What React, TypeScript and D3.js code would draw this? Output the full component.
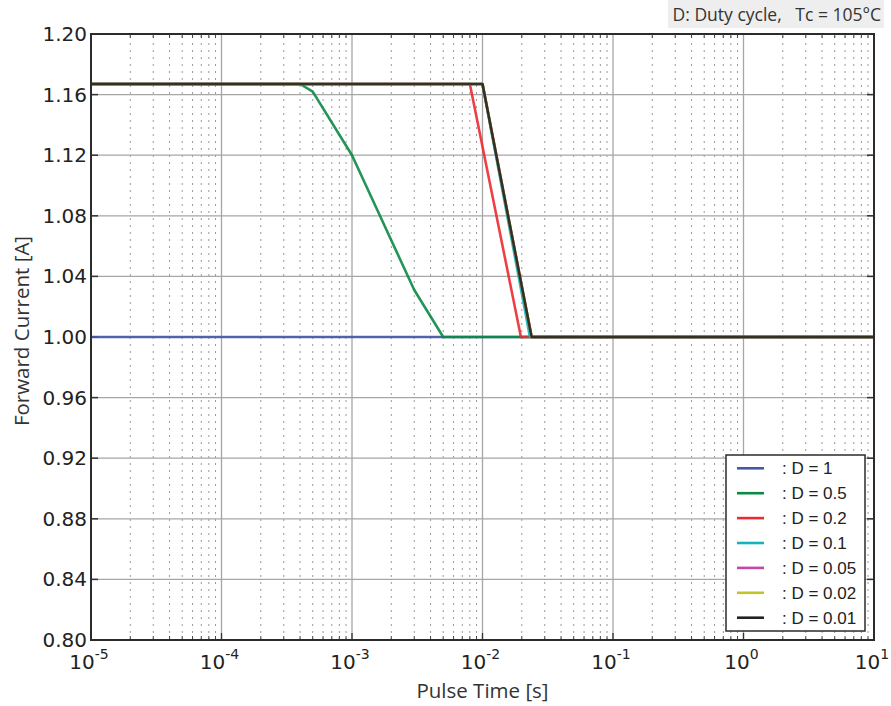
import React from "react";
import * as d3 from "d3";

const W = 891;
const H = 706;
const M = { left: 91, right: 874, top: 34, bottom: 640 };

const yTicks = [0.8, 0.84, 0.88, 0.92, 0.96, 1.0, 1.04, 1.08, 1.12, 1.16, 1.2];
const xDecades = [-5, -4, -3, -2, -1, 0, 1];

const seriesNames = [": D = 1", ": D = 0.5", ": D = 0.2", ": D = 0.1", ": D = 0.05", ": D = 0.02", ": D = 0.01"];
const seriesColors = ["#4558a8", "#0b8a45", "#ec2a30", "#12b5bd", "#c446a6", "#c2c22a", "#222222"];

const xD1 = [1e-5, 10];
const yD1 = [1.0, 1.0];
const xD05 = [1e-5, 4e-4, 5e-4, 1e-3, 3e-3, 5e-3, 10];
const yD05 = [1.167, 1.167, 1.162, 1.12, 1.031, 1.0, 1.0];
const xD02 = [1e-5, 8e-3, 0.0197, 10];
const yD02 = [1.167, 1.167, 1.0, 1.0];
const xD01 = [1e-5, 0.01, 0.0231, 10];
const yD01 = [1.167, 1.167, 1.0, 1.0];
const xD005 = [1e-5, 0.01, 0.0238, 10];
const yD005 = [1.167, 1.167, 1.0, 1.0];
const xD002 = [1e-5, 0.01, 0.0238, 10];
const yD002 = [1.167, 1.167, 1.0, 1.0];
const xD001 = [1e-5, 0.01, 0.0238, 10];
const yD001 = [1.167, 1.167, 1.0, 1.0];

const seriesX = [xD1, xD05, xD02, xD01, xD005, xD002, xD001];
const seriesY = [yD1, yD05, yD02, yD01, yD005, yD002, yD001];

export default function App() {
  const x = d3.scaleLog().domain([1e-5, 10]).range([M.left, M.right]);
  const y = d3.scaleLinear().domain([0.8, 1.2]).range([M.bottom, M.top]);
  const line = d3
    .line<[number, number]>()
    .x((d) => x(d[0]))
    .y((d) => y(d[1]));

  const minor: number[] = [];
  for (let e = -5; e < 1; e++) {
    for (let k = 2; k <= 9; k++) minor.push(k * Math.pow(10, e));
  }

  const tickFont = "'DejaVu Sans', sans-serif";
  const labelFont = "'Open Sans', 'Noto Sans', sans-serif";

  return (
    <svg width={W} height={H} style={{ position: "absolute", left: 0, top: 0, background: "#fff" }}>
      <rect x={0} y={0} width={W} height={H} fill="#fff" />
      {/* minor grid */}
      {minor.map((v, i) => (
        <line key={"mg" + i} x1={x(v)} x2={x(v)} y1={M.top + 2} y2={M.bottom} stroke="#999" strokeWidth={1} strokeDasharray="2,5" />
      ))}
      {/* major grid */}
      {xDecades.map((e) => (
        <line key={"gx" + e} x1={x(Math.pow(10, e))} x2={x(Math.pow(10, e))} y1={M.top} y2={M.bottom} stroke="#a6a6a6" strokeWidth={1.3} />
      ))}
      {yTicks.map((v) => (
        <line key={"gy" + v} x1={M.left} x2={M.right} y1={y(v)} y2={y(v)} stroke="#a6a6a6" strokeWidth={1.3} />
      ))}
      {/* minor ticks on bottom / top */}
      {minor.map((v, i) => (
        <g key={"mt" + i}>
          <line x1={x(v)} x2={x(v)} y1={M.bottom} y2={M.bottom - 4} stroke="#444" strokeWidth={1} />
          <line x1={x(v)} x2={x(v)} y1={M.top} y2={M.top + 4} stroke="#444" strokeWidth={1} />
        </g>
      ))}
      {yTicks.map((v) => (
        <g key={"yt" + v}>
          <line x1={M.left} x2={M.left + 7} y1={y(v)} y2={y(v)} stroke="#333" strokeWidth={1.5} />
          <line x1={M.right} x2={M.right - 7} y1={y(v)} y2={y(v)} stroke="#333" strokeWidth={1.5} />
        </g>
      ))}
      {xDecades.map((e) => (
        <g key={"xt" + e}>
          <line x1={x(Math.pow(10, e))} x2={x(Math.pow(10, e))} y1={M.bottom} y2={M.bottom - 7} stroke="#333" strokeWidth={1.3} />
        </g>
      ))}
      {/* series */}
      {seriesX.map((xs, i) => (
        <path
          key={"s" + i}
          d={line(xs.map((v, j) => [v, seriesY[i][j]] as [number, number])) || ""}
          fill="none"
          stroke={seriesColors[i]}
          strokeWidth={2.6}
          strokeOpacity={0.9}
          strokeLinejoin="round"
        />
      ))}
      {/* frame */}
      <rect x={M.left} y={M.top} width={M.right - M.left} height={M.bottom - M.top} fill="none" stroke="#2b2b2b" strokeWidth={2} />
      {/* y tick labels */}
      {yTicks.map((v) => (
        <text key={"yl" + v} x={87} y={y(v) + 7} textAnchor="end" fontFamily={tickFont} fontSize={20} fill="#222">
          {v.toFixed(2)}
        </text>
      ))}
      {/* x tick labels */}
      {xDecades.map((e) => (
        <text key={"xl" + e} x={x(Math.pow(10, e)) - 2} y={669} textAnchor="middle" fontFamily={tickFont} fontSize={20} fill="#222">
          10
          <tspan dy={-10} fontSize={14}>{String(e)}</tspan>
        </text>
      ))}
      {/* axis titles */}
      <text x={482.5} y={698} textAnchor="middle" fontFamily={labelFont} fontSize={20.5} fill="#333">
        Pulse Time [s]
      </text>
      <text transform={`translate(29, 331) rotate(-90)`} textAnchor="middle" fontFamily={labelFont} fontSize={20.5} fill="#333">
        Forward Current [A]
      </text>
      {/* header */}
      <rect x={668} y={0} width={216} height={28} fill="#eeeeee" />
      <text x={881} y={21} textAnchor="end" fontFamily={labelFont} fontSize={17.5} fill="#333" style={{ whiteSpace: "pre" }}>
        {"D: Duty cycle,   Tc = 105°C"}
      </text>
      {/* legend */}
      <rect x={726} y={455} width={139} height={176} fill="#fff" stroke="#2b2b2b" strokeWidth={1.5} />
      {seriesNames.map((n, i) => {
        const yy = 468.3 + i * 24.9;
        return (
          <g key={"lg" + i}>
            <line x1={737} x2={764} y1={yy} y2={yy} stroke={seriesColors[i]} strokeWidth={2.6} />
            <text x={782} y={yy + 6} fontFamily="'Liberation Sans', Arial, sans-serif" fontSize={17} fill="#222" style={{ whiteSpace: "pre" }}>
              {n}
            </text>
          </g>
        );
      })}
    </svg>
  );
}
